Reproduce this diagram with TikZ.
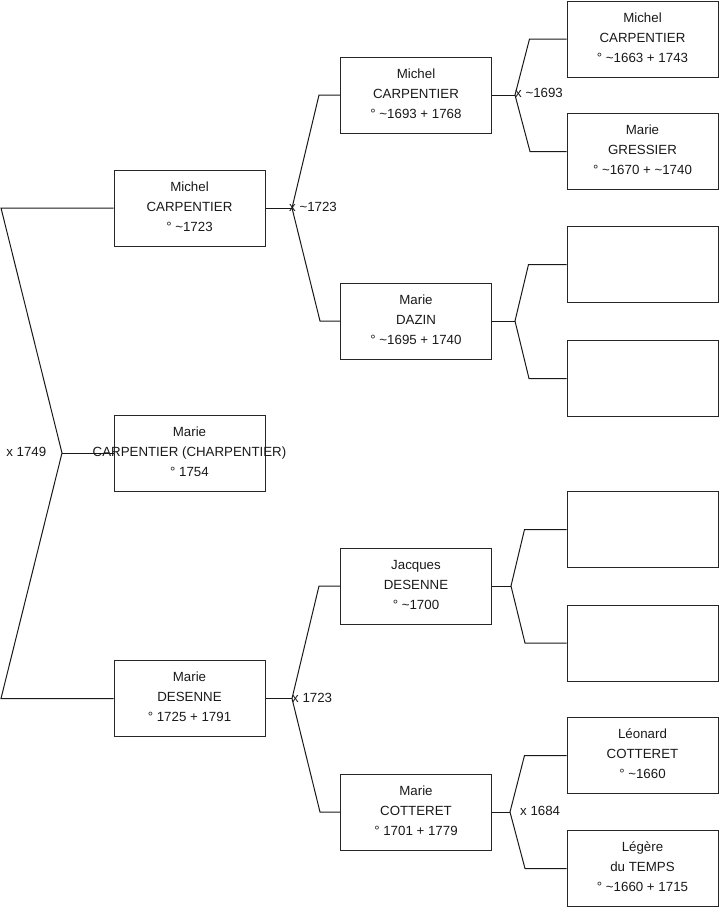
\documentclass[tikz,border=0pt]{standalone}
\usepackage{fontspec}
\setmainfont{Liberation Sans}
\begin{document}
\begin{tikzpicture}[x=1pt,y=-1pt,
  pbox/.style={draw=black!85, line width=1pt, minimum width=151pt, minimum height=76pt, inner sep=0pt, fill=none},
  ptext/.style={align=center, inner sep=0pt, font=\fontsize{13.3}{20}\selectfont, text=black!90},
  link/.style={draw=black!90, line width=1pt},
  mlabel/.style={inner sep=0pt, font=\fontsize{13.3}{16}\selectfont, text=black!90}]
\useasboundingbox (0,0) rectangle (719,908);
\newcommand\person[3]{%
  \node[pbox] (#1) at (#2) {};
  \node[ptext] at ([yshift=1.5pt]#1.center) {#3};}
% level 1
\person{p1}{189.5,208}{Michel\\CARPENTIER\\° \textasciitilde1723}
\person{p2}{189.5,453}{Marie\\CARPENTIER (CHARPENTIER)\\° 1754}
\person{p3}{189.5,698.5}{Marie\\DESENNE\\° 1725 + 1791}
% level 2
\person{q1}{416,95}{Michel\\CARPENTIER\\° \textasciitilde1693 + 1768}
\person{q2}{416,321}{Marie\\DAZIN\\° \textasciitilde1695 + 1740}
\person{q3}{416,586}{Jacques\\DESENNE\\° \textasciitilde1700}
\person{q4}{416,812}{Marie\\COTTERET\\° 1701 + 1779}
% level 3
\person{r1}{642.5,39}{Michel\\CARPENTIER\\° \textasciitilde1663 + 1743}
\person{r2}{642.5,151.5}{Marie\\GRESSIER\\° \textasciitilde1670 + \textasciitilde1740}
\node[pbox] (r3) at (642.5,264.5) {};
\node[pbox] (r4) at (642.5,378.5) {};
\node[pbox] (r5) at (642.5,529.5) {};
\node[pbox] (r6) at (642.5,643) {};
\person{r7}{642.5,755.5}{Léonard\\COTTERET\\° \textasciitilde1660}
\person{r8}{642.5,868.5}{Légère\\du TEMPS\\° \textasciitilde1660 + 1715}
% junctions
\coordinate (a1) at (1,208);
\coordinate (j0) at (62,453);
\coordinate (a3) at (1,698.5);
\coordinate (j1) at (292,208);
\coordinate (j2) at (292,698.5);
\coordinate (j3) at (515,95);
\coordinate (j4) at (515,321);
\coordinate (j5) at (511,586);
\coordinate (j6) at (510,812);
% connectors
\draw[link] (p1.west) -- (a1) -- (j0) -- (a3) -- (p3.west);
\draw[link] (j0) -- (p2.west);
\draw[link] (p1.east) -- (j1);
\draw[link] (q1.west) -- ++(-21,0) -- (j1) -- (320,321) -- (q2.west);
\draw[link] (p3.east) -- (j2);
\draw[link] (q3.west) -- ++(-21,0) -- (j2) -- (320,812) -- (q4.west);
\draw[link] (q1.east) -- (j3);
\draw[link] (r1.west) -- ++(-37,0) -- (j3) -- (530,151.5) -- (r2.west);
\draw[link] (q2.east) -- (j4);
\draw[link] (r3.west) -- ++(-38,0) -- (j4) -- (529,378.5) -- (r4.west);
\draw[link] (q3.east) -- (j5);
\draw[link] (r5.west) -- ++(-42,0) -- (j5) -- (525,643) -- (r6.west);
\draw[link] (q4.east) -- (j6);
\draw[link] (r7.west) -- ++(-42,0) -- (j6) -- (525,868.5) -- (r8.west);
% marriage labels
\node[mlabel, anchor=east] (m0) at (46.5,451.5) {x 1749};
\node[mlabel, anchor=west] (m1) at (289,207) {x \textasciitilde1723};
\node[mlabel, anchor=west] (m2) at (292,697.5) {x 1723};
\node[mlabel, anchor=west] (m3) at (515,93) {x \textasciitilde1693};
\node[mlabel, anchor=west] (m4) at (520,811) {x 1684};
\end{tikzpicture}
\end{document}
